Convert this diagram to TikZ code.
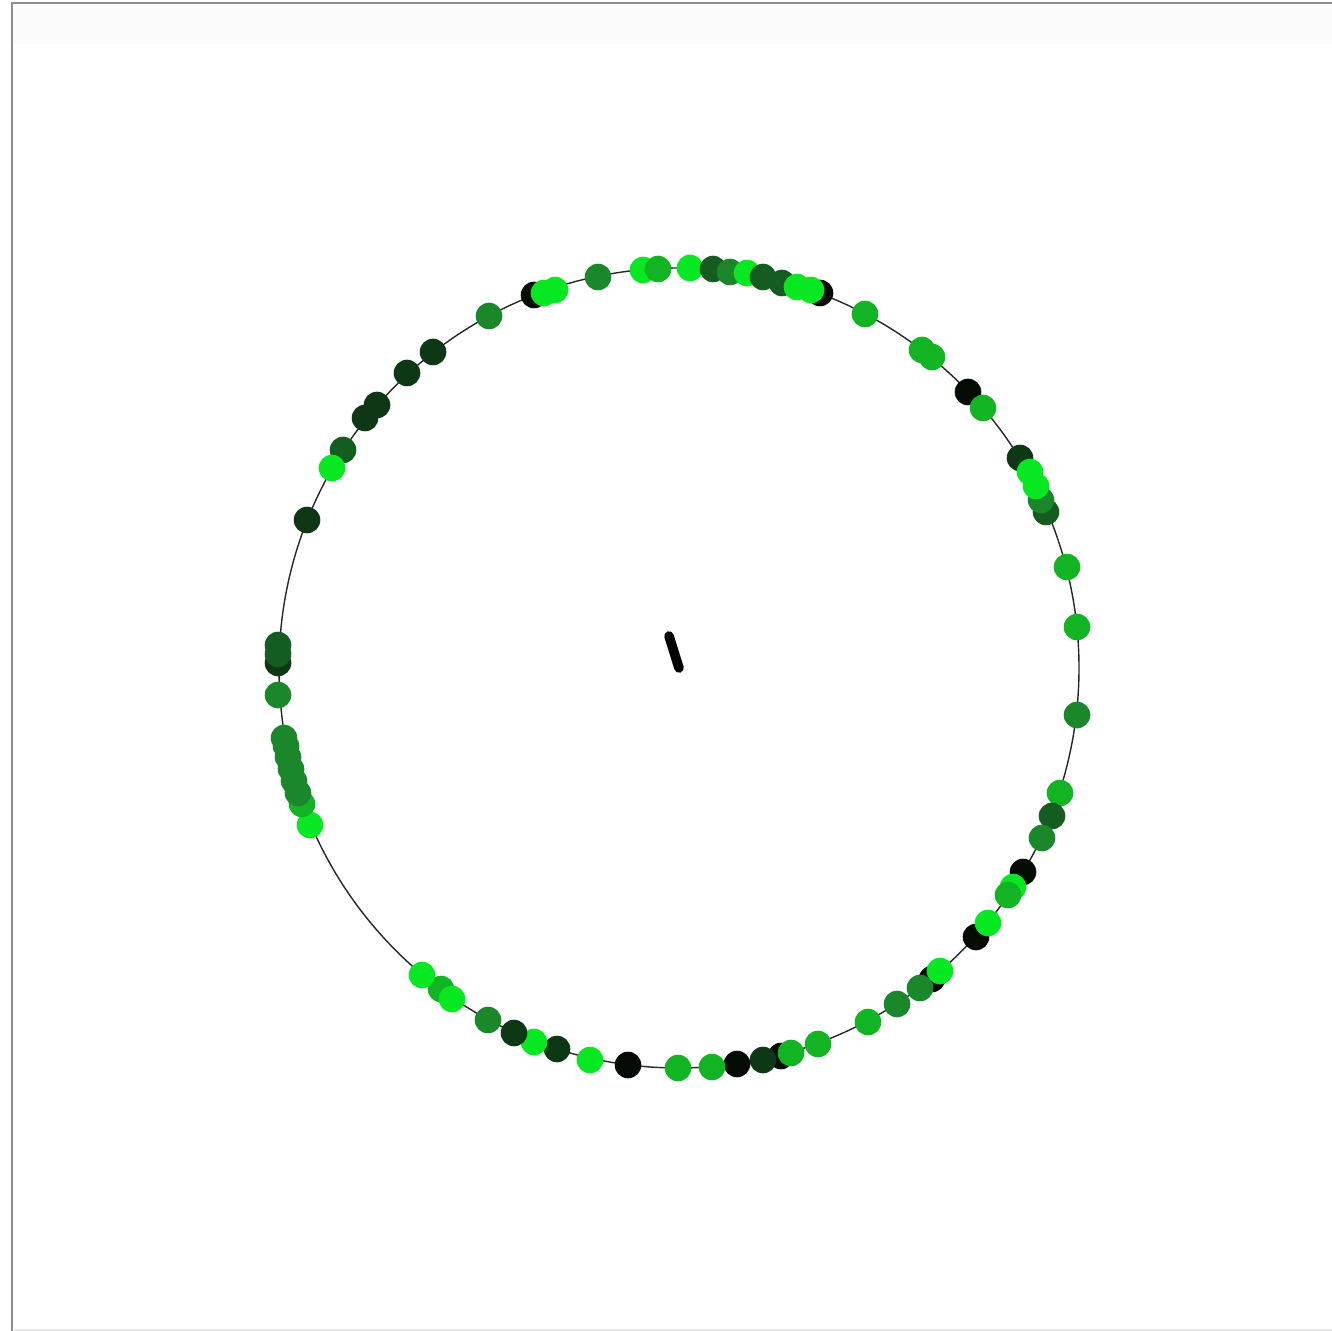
\documentclass[tikz,border=0pt]{standalone}
\begin{document}
\begin{tikzpicture}[x=0.5pt,y=-0.5pt,
  dot/.style={circle,inner sep=0pt,minimum size=13.3pt,draw=none},
  ring/.style={draw=black!85,line width=0.7pt},
  frame/.style={draw=black!45,line width=1.1pt}]
\definecolor{cK}{RGB}{5,12,6}
\definecolor{cA}{RGB}{14,55,22}
\definecolor{cB}{RGB}{20,92,32}
\definecolor{cC}{RGB}{26,135,42}
\definecolor{cD}{RGB}{18,180,36}
\definecolor{cE}{RGB}{8,232,34}
\useasboundingbox (0,0) rectangle (1332,1331);
\fill[black!1.5] (14,5) rectangle (1332,44);
\draw[frame] (12,1331) -- (12,3) -- (1332,3);
\draw[black!10,line width=0.6pt] (14,1330) -- (1332,1330);
\coordinate (c) at (679,668);
\draw[ring] (c) circle (400);
\coordinate (s1) at (669,636);
\coordinate (s2) at (679,668);
\draw[line width=4.8pt,line cap=round] (s1) -- (s2);
% top
\node[dot,fill=cK] (d1) at (534,295) {};
\node[dot,fill=cE] (d2) at (544,293) {};
\node[dot,fill=cE] (d3) at (555,290) {};
\node[dot,fill=cC] (d4) at (598,277) {};
\node[dot,fill=cE] (d5) at (643,270) {};
\node[dot,fill=cD] (d6) at (658,269) {};
\node[dot,fill=cE] (d7) at (690,268) {};
\node[dot,fill=cB] (d8) at (713,269) {};
\node[dot,fill=cC] (d9) at (730,272) {};
\node[dot,fill=cE] (d10) at (747,273) {};
\node[dot,fill=cB] (d11) at (763,277) {};
\node[dot,fill=cK] (d12) at (820,293) {};
\node[dot,fill=cB] (d13) at (782,283) {};
\node[dot,fill=cE] (d14) at (797,287) {};
\node[dot,fill=cE] (d15) at (811,290) {};
\node[dot,fill=cD] (d16) at (865,314) {};
% upper right
\node[dot,fill=cD] (d17) at (922,350) {};
\node[dot,fill=cD] (d18) at (932,357) {};
\node[dot,fill=cK] (d19) at (968,392) {};
\node[dot,fill=cD] (d20) at (983,408) {};
\node[dot,fill=cA] (d21) at (1020,458) {};
\node[dot,fill=cB] (d22) at (1046,512) {};
\node[dot,fill=cC] (d23) at (1041,500) {};
\node[dot,fill=cE] (d24) at (1030,472) {};
\node[dot,fill=cE] (d25) at (1036,486) {};
\node[dot,fill=cD] (d26) at (1067,567) {};
\node[dot,fill=cD] (d27) at (1077,627) {};
% right
\node[dot,fill=cC] (d28) at (1077,715) {};
\node[dot,fill=cD] (d29) at (1060,793) {};
\node[dot,fill=cB] (d30) at (1052,816) {};
\node[dot,fill=cC] (d31) at (1042,838) {};
\node[dot,fill=cK] (d32) at (1023,872) {};
\node[dot,fill=cE] (d33) at (1013,887) {};
\node[dot,fill=cD] (d34) at (1008,895) {};
\node[dot,fill=cK] (d35) at (976,937) {};
\node[dot,fill=cE] (d36) at (988,923) {};
\node[dot,fill=cK] (d37) at (932,979) {};
\node[dot,fill=cE] (d38) at (940,971) {};
\node[dot,fill=cC] (d39) at (920,988) {};
\node[dot,fill=cC] (d40) at (897,1004) {};
\node[dot,fill=cD] (d41) at (868,1022) {};
% bottom
\node[dot,fill=cD] (d42) at (818,1044) {};
\node[dot,fill=cK] (d43) at (781,1056) {};
\node[dot,fill=cD] (d44) at (791,1053) {};
\node[dot,fill=cA] (d45) at (763,1060) {};
\node[dot,fill=cK] (d46) at (737,1064) {};
\node[dot,fill=cD] (d47) at (712,1067) {};
\node[dot,fill=cD] (d48) at (678,1068) {};
\node[dot,fill=cK] (d49) at (628,1065) {};
\node[dot,fill=cE] (d50) at (590,1060) {};
\node[dot,fill=cA] (d51) at (557,1049) {};
\node[dot,fill=cE] (d52) at (534,1042) {};
\node[dot,fill=cA] (d53) at (514,1033) {};
\node[dot,fill=cC] (d54) at (488,1020) {};
\node[dot,fill=cD] (d55) at (441,989) {};
\node[dot,fill=cE] (d56) at (452,999) {};
\node[dot,fill=cE] (d57) at (422,975) {};
% left
\node[dot,fill=cE] (d58) at (310,825) {};
\node[dot,fill=cD] (d59) at (302,804) {};
\node[dot,fill=cC] (d60) at (298,793) {};
\node[dot,fill=cC] (d61) at (294,781) {};
\node[dot,fill=cC] (d62) at (291,769) {};
\node[dot,fill=cC] (d63) at (288,757) {};
\node[dot,fill=cC] (d64) at (286,746) {};
\node[dot,fill=cC] (d65) at (284,738) {};
\node[dot,fill=cC] (d66) at (278,695) {};
\node[dot,fill=cA] (d67) at (278,663) {};
\node[dot,fill=cB] (d68) at (278,654) {};
\node[dot,fill=cB] (d69) at (278,645) {};
\node[dot,fill=cA] (d70) at (307,520) {};
\node[dot,fill=cB] (d71) at (343,450) {};
\node[dot,fill=cE] (d72) at (332,468) {};
\node[dot,fill=cA] (d73) at (365,418) {};
\node[dot,fill=cA] (d74) at (377,405) {};
\node[dot,fill=cA] (d75) at (407,373) {};
\node[dot,fill=cA] (d76) at (433,352) {};
\node[dot,fill=cC] (d77) at (489,316) {};
\end{tikzpicture}
\end{document}
